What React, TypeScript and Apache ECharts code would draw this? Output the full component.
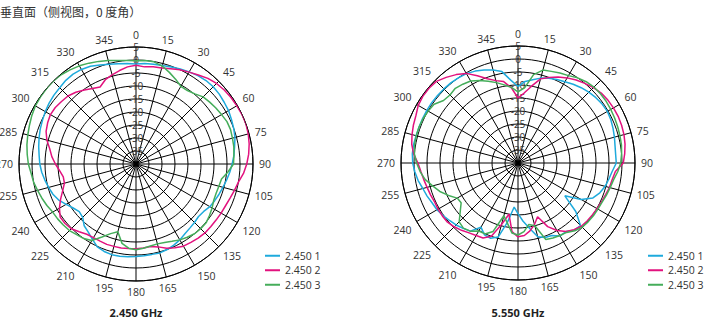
import React, { useEffect, useRef } from "react";
import * as echarts from "echarts";

const ANGLES = [
  0, 5, 10, 15, 20, 25, 30, 35, 40, 45, 50, 55, 60, 65, 70, 75, 80, 85,
  90, 95, 100, 105, 110, 115, 120, 125, 130, 135, 140, 145, 150, 155, 160, 165, 170, 175,
  180, 185, 190, 195, 200, 205, 210, 215, 220, 225, 230, 235, 240, 245, 250, 255, 260, 265,
  270, 275, 280, 285, 290, 295, 300, 305, 310, 315, 320, 325, 330, 335, 340, 345, 350, 355,
];

const SERIES_NAMES = ["2.450 1", "2.450 2", "2.450 3"];
const COLORS = ["#1eaadc", "#e2127e", "#45ad5a"];
const CHART_TITLES = ["2.450 GHz", "5.550 GHz"];
const PAGE_TITLE = "垂直面（侧视图，0 度角）";

// 2.450 GHz
const L_S1 = [
  -1.5, -1.2, -1, -0.8, -0.3, 0.3, 0.9, 1.5, 1.9, 2, 1.8, 1.4, 1.1, 0.5, 0, -0.6, -1.5, -2.2,
  -3, -3.8, -4.6, -5.4, -6, -6.6, -7.2, -8.2, -8.6, -8.2, -7.8, -7.2, -6.3, -5.6, -5, -4.6, -4.7, -4.6,
  -4.4, -4.2, -4, -3.9, -4.2, -4.8, -6.5, -8, -9, -11, -11.5, -10.5, -9, -7.2, -6, -5.2, -4.4, -3.6,
  -3, -2.6, -2, -1.4, -0.8, -0.3, 0.3, 0.8, 1.2, 1.5, 2, 2.2, 2, 1.5, 0.5, -0.3, -0.8, -1.2,
];
const L_S2 = [
  -2, -2.5, -2, -1.8, -1, 0, 0.8, 1.8, 3, 3.8, 4.3, 4.6, 4.8, 5, 5, 4.7, 4.2, 3.5,
  2.6, 1.5, 0, -0.8, -1.5, -2, -2.2, -2.4, -2.5, -2.5, -2.8, -3.2, -3.5, -4.5, -5.5, -7, -7.8, -7.6,
  -7.4, -7.4, -7.2, -7.2, -7.1, -7.3, -7.3, -7, -6, -4.8, -4.4, -4.4, -6, -8, -10, -11.5, -11.6, -10.5,
  -9, -7.5, -6.3, -4.5, -3.2, -2.5, -2, -2.1, -2.6, -3, -4, -5.3, -6.5, -7.3, -5.5, -4.5, -3.5, -2.5,
];
const L_S3 = [
  -0.3, 0, -0.1, -1, -2.5, -4, -5.5, -5.5, -4.8, -3.5, -3, -2.5, -2, -1.4, -1.3, -1.6, -1.8, -2.2,
  -2.5, -4.5, -6.6, -7, -7.2, -7, -6.2, -5.5, -4.8, -4.8, -5, -5.6, -6.3, -7.2, -7.9, -8.2, -8, -7.5,
  -7, -7.5, -9, -13, -11.5, -9, -6, -5, -4.5, -3.8, -3.5, -3.2, -3, -2.2, -1.5, -0.8, 0, 0.5,
  1.4, 2, 2.6, 3.1, 3.6, 4.2, 4.7, 4.9, 5, 5, 4.8, 4.2, 3.6, 2.8, 2, 1.2, 0.4, 0,
];

// 5.550 GHz
const R_S1 = [
  -10.6, -8.5, -7.5, -6.2, -5.3, -4.6, -3.9, -3, -2.2, -1.5, -0.9, -0.5, -0.3, -0.6, -1.1, -1.6, -2.1, -2.3,
  -2.2, -3.6, -4.5, -5.3, -6.5, -8.2, -12, -18, -11, -6, -6.3, -7.8, -7.6, -9.2, -9.5, -10.6, -14.5, -17.5,
  -20.5, -23, -17, -10.5, -9.2, -9.5, -11.5, -8, -7.2, -6.3, -5.6, -4.8, -4, -3.6, -2.8, -2.1, -1, -0.2,
  0.5, 0.8, 0.8, 0.6, 0.5, 0.5, 0.5, 0.5, 0.4, 0.3, 0.2, 0, -0.3, -1, -1.9, -3, -4.3, -8,
];
const R_S2 = [
  -15, -13, -10, -6.5, -5, -3.5, -2.2, -1, 0, 1, 1.8, 2.2, 2.4, 2.5, 2.4, 2.2, 1.8, 1.2,
  0.5, -2.4, -3.2, -3.6, -4.2, -4.6, -4.9, -5.1, -5.3, -5.6, -6.5, -7.8, -10, -13, -18, -15.5, -13.5, -12,
  -11.6, -13.5, -20, -15.5, -10, -8.2, -7.8, -7.2, -6.2, -5.3, -4.6, -4.5, -4.5, -4.6, -4.2, -3.8, -3.2, -2.5,
  -1.5, 0.3, 1.5, 2.2, 2.8, 3.3, 4.3, 4.7, 4.7, 4.4, 3, 1.5, -0.2, -3, -5.5, -7.2, -8.2, -11,
];
const R_S3 = [
  -12.6, -11, -5.5, -3, -2.5, -1.8, -1.2, 0, 0.8, 1.3, 1.4, 1.4, 1.2, 1, 0.8, 0.6, 0.4, 0,
  -0.5, -1.5, -2.7, -3.3, -3.8, -4.3, -4.5, -4.6, -4.8, -5.1, -6, -7.4, -7.8, -8.2, -8.7, -15, -16, -13.5,
  -12.3, -13, -16.5, -19, -12, -9.9, -9.8, -8, -7.3, -8, -11, -13.3, -13, -10.5, -8, -6, -3.7, -2.2,
  -1, 0, 0.4, 0.5, 0.5, 0.3, -0.1, -0.6, -2.6, -3, -2.5, -3, -3.6, -5, -6.5, -8, -9.5, -10.8,
];

const ANGLE_TICKS_MIN = 0;
const ANGLE_TICKS_MAX = 360;
const ANGLE_TICK_STEP = 15;
const RADIUS_MIN = -40;
const RADIUS_MAX = 5;
const RADIUS_STEP = 5;

const FONT = "'Open Sans', 'DejaVu Sans', sans-serif";

function toPairs(values: number[]) {
  const pts = values.map((v, i) => [v, ANGLES[i]]);
  pts.push([values[0], 360]);
  return pts;
}

function makeAxes(index: number) {
  const angleAxis = {
    polarIndex: index,
    type: "value",
    min: ANGLE_TICKS_MIN,
    max: ANGLE_TICKS_MAX,
    interval: ANGLE_TICK_STEP,
    startAngle: 90,
    clockwise: true,
    axisLine: { show: true, lineStyle: { color: "#000", width: 1 } },
    axisTick: { show: false },
    axisLabel: {
      show: true,
      margin: 6,
      color: "#333",
      fontSize: 10.5,
      lineHeight: 10,
      fontFamily: FONT,
      formatter: (v: number) => (v === 360 ? "" : v === 0 ? "{top|0}" : String(v)),
      rich: {
        top: {
          color: "#333",
          fontSize: 10.5,
          lineHeight: 10,
          fontFamily: FONT,
          padding: [0, 0, 3, 0],
        },
      },
    },
    splitLine: { show: true, lineStyle: { color: "#000", width: 1 } },
  };
  const radiusAxis = {
    polarIndex: index,
    type: "value",
    min: RADIUS_MIN,
    max: RADIUS_MAX,
    interval: RADIUS_STEP,
    axisLine: { show: false },
    axisTick: { show: false },
    axisLabel: {
      show: true,
      showMinLabel: false,
      margin: 0,
      align: "center",
      verticalAlign: "middle",
      color: "#333",
      fontSize: 10,
      lineHeight: 9,
      fontFamily: FONT,
    },
    splitLine: { show: true, lineStyle: { color: "#000", width: 1 } },
  };
  return { angleAxis, radiusAxis };
}

export default function App() {
  const ref = useRef<HTMLDivElement>(null);
  useEffect(() => {
    if (!ref.current) return;
    const chart = echarts.init(ref.current, undefined, { renderer: "svg" });
    const a0 = makeAxes(0);
    const a1 = makeAxes(1);
    const groups = [
      [L_S1, L_S2, L_S3],
      [R_S1, R_S2, R_S3],
    ];
    const series: any[] = [];
    groups.forEach((g, pi) => {
      g.forEach((vals, si) => {
        series.push({
          type: "line",
          name: SERIES_NAMES[si],
          coordinateSystem: "polar",
          polarIndex: pi,
          data: toPairs(vals),
          showSymbol: false,
          symbol: "none",
          smooth: false,
          lineStyle: { color: COLORS[si], width: 1.5 },
          itemStyle: { color: COLORS[si] },
          z: 3,
        });
      });
    });
    const legendBase = {
      orient: "vertical",
      icon: "rect",
      itemWidth: 15,
      itemHeight: 2,
      itemGap: 3,
      textStyle: { color: "#333", fontSize: 10.5, lineHeight: 11.5, fontFamily: FONT },
      data: SERIES_NAMES,
      selectedMode: false,
    };
    chart.setOption({
      animation: false,
      backgroundColor: "#fff",
      color: COLORS,
      title: [
        {
          text: PAGE_TITLE,
          left: 0,
          top: 5,
          padding: 0,
          textStyle: { fontSize: 12, fontWeight: "normal", color: "#333", fontFamily: "'Noto Sans CJK SC', sans-serif" },
        },
        {
          text: CHART_TITLES[0],
          left: 136,
          top: 307,
          padding: 0,
          textAlign: "center",
          textStyle: { fontSize: 11, fontWeight: "bold", color: "#222", fontFamily: FONT },
        },
        {
          text: CHART_TITLES[1],
          left: 518,
          top: 307,
          padding: 0,
          textAlign: "center",
          textStyle: { fontSize: 11, fontWeight: "bold", color: "#222", fontFamily: FONT },
        },
      ],
      legend: [
        { ...legendBase, left: 265, top: 250, padding: 0 },
        { ...legendBase, left: 648, top: 250, padding: 0 },
      ],
      polar: [
        { center: [136, 164], radius: 117 },
        { center: [518, 163], radius: 117 },
      ],
      angleAxis: [a0.angleAxis, a1.angleAxis],
      radiusAxis: [a0.radiusAxis, a1.radiusAxis],
      series,
    });
    return () => chart.dispose();
  }, []);
  return (
    <div
      ref={ref}
      style={{ position: "absolute", left: 0, top: 0, width: 704, height: 332 }}
    />
  );
}
